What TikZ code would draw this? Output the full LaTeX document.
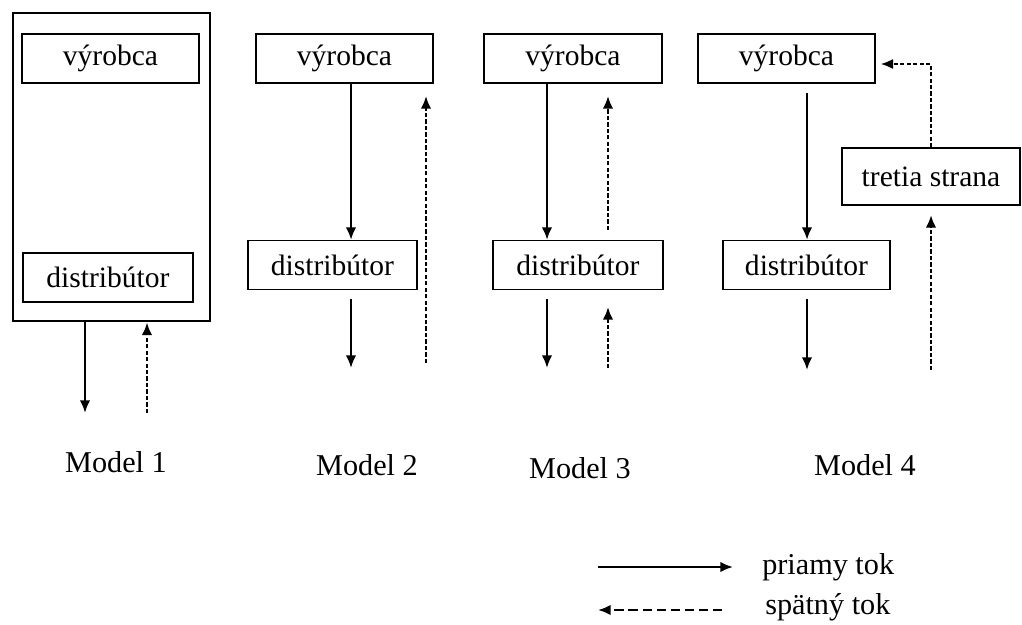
\documentclass[tikz,border=0pt]{standalone}
\usepackage{fontspec}
\setmainfont{Liberation Serif}
\usetikzlibrary{arrows.meta,calc}

\tikzset{
  box/.style={draw, line width=0.8pt, minimum width=4.4cm, minimum height=1.225cm,
    inner sep=0pt, font=\fontsize{21}{25}\selectfont},
  frame/.style={draw, line width=1.9pt, minimum width=4.925cm, minimum height=7.7cm, inner sep=0pt},
  flow/.style={line width=1.7pt, -{Latex[length=9pt,width=7.5pt]}},
  back/.style={flow, line width=1.9pt, dash pattern=on 3pt off 1.6pt},
  legback/.style={flow, dash pattern=on 6.5pt off 3.5pt},
  lbl/.style={font=\fontsize{21.5}{25}\selectfont, inner sep=0pt}
}

\begin{document}
\begin{tikzpicture}[x=0.025cm, y=-0.025cm]
  % picture size in pixels of the reference
  \useasboundingbox (0,0) rectangle (1022,625);

  % Model 1: everything inside one company
  \node[frame] (m1) at (111.5,167) {};
  \node[box, minimum width=4.425cm] (v1) at (110.5,58.5) {výrobca};
  \node[box, minimum width=4.25cm] (d1) at (108,277.5) {distribútor};
  \coordinate (c1a) at (85,0);
  \coordinate (c1b) at (147,0);
  \coordinate (e1a) at (85,413);
  \coordinate (e1b) at (147,413);
  \draw[flow] (m1.south -| c1a) -- (e1a);
  \draw[back] (e1b) -- (m1.south -| c1b);
  \node[lbl] (t1) at (116,462) {Model 1};

  % Model 2
  \node[box, minimum width=4.425cm] (v2) at (344.5,58.5) {výrobca};
  \node[box, minimum width=4.225cm] (d2) at (332.5,265) {distribútor};
  \coordinate (c2a) at (351,0);
  \coordinate (c2b) at (426,96);
  \coordinate (s2) at (351,299);
  \coordinate (e2a) at (351,368);
  \coordinate (e2b) at (426,363);
  \draw[flow] (v2.south -| c2a) -- (d2.north -| c2a);
  \draw[flow] (s2) -- (e2a);
  \draw[back] (e2b) -- (c2b);
  \node[lbl] (t2) at (367,465) {Model 2};

  % Model 3
  \node[box, minimum width=4.45cm] (v3) at (573,58.5) {výrobca};
  \node[box, minimum width=4.25cm] (d3) at (578,265) {distribútor};
  \coordinate (c3a) at (547,0);
  \coordinate (s3) at (547,299);
  \coordinate (e3a) at (547,368);
  \coordinate (p3) at (608,230);
  \coordinate (q3) at (608,96);
  \coordinate (r3) at (608,368);
  \coordinate (u3) at (608,307);
  \draw[flow] (v3.south -| c3a) -- (d3.north -| c3a);
  \draw[flow] (s3) -- (e3a);
  \draw[back] (p3) -- (q3);
  \draw[back] (r3) -- (u3);
  \node[lbl] (t3) at (580,468) {Model 3};

  % Model 4: return flow goes through a third party
  \node[box, minimum width=4.425cm] (v4) at (786.5,58.5) {výrobca};
  \node[box, minimum width=4.175cm] (d4) at (806.5,265) {distribútor};
  \node[box, minimum width=4.45cm, minimum height=1.425cm] (ts) at (931,176.5) {tretia strana};
  \coordinate (c4a) at (807,93);
  \coordinate (s4) at (807,299);
  \coordinate (e4a) at (807,370);
  \coordinate (k4) at (931,64);
  \coordinate (r4) at (931,370);
  \coordinate (u4) at (931,215);
  \draw[flow] (c4a) -- (d4.north -| c4a);
  \draw[flow] (s4) -- (e4a);
  \draw[back] (ts.north) -- (k4) -- ($(k4 -| v4.east)+(5,0)$);
  \draw[back] (r4) -- (u4);
  \node[lbl] (t4) at (865,465) {Model 4};

  % legend
  \coordinate (la) at (598,567);
  \coordinate (lb) at (733,567);
  \coordinate (lc) at (722,610);
  \coordinate (ld) at (598,610);
  \draw[flow] (la) -- (lb);
  \draw[legback] (lc) -- (ld);
  \node[lbl, anchor=west] (pt) at (762,567) {priamy tok};
  \node[lbl, anchor=west] (st) at (765,607) {spätný tok};
\end{tikzpicture}
\end{document}
